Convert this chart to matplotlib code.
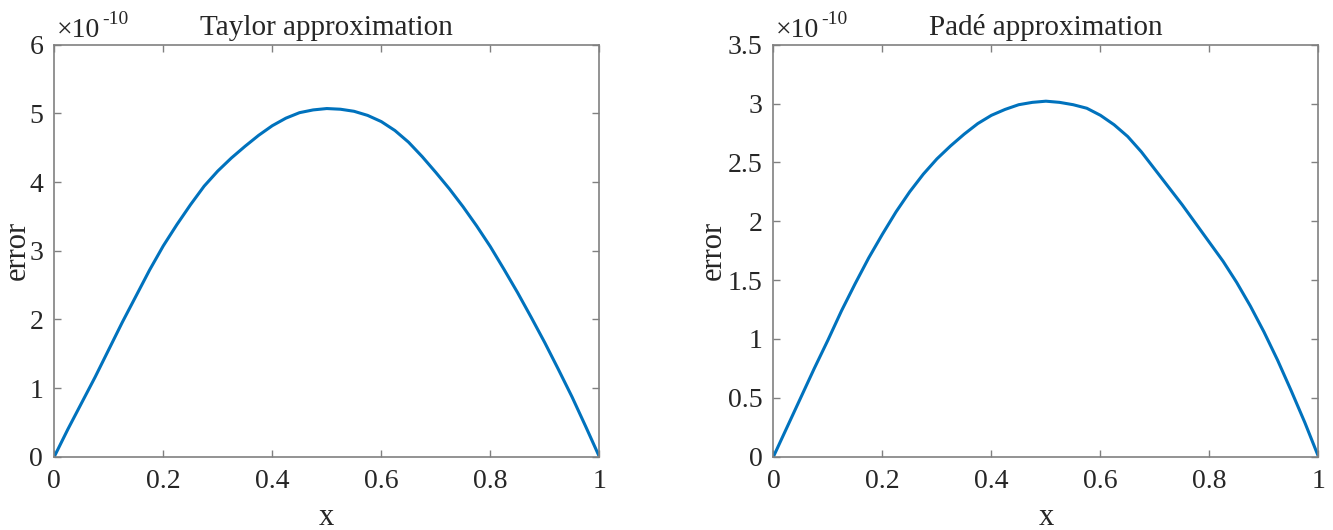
import numpy as np
import matplotlib
matplotlib.use("Agg")
import matplotlib.pyplot as plt
from matplotlib.ticker import FormatStrFormatter

# data (error in units of 1e-10)
x = [0, 0.025, 0.05, 0.075, 0.1, 0.125, 0.15, 0.175, 0.2, 0.225, 0.25,
     0.275, 0.3, 0.325, 0.35, 0.375, 0.4, 0.425, 0.45, 0.475, 0.5,
     0.525, 0.55, 0.575, 0.6, 0.625, 0.65, 0.675, 0.7, 0.725, 0.75,
     0.775, 0.8, 0.825, 0.85, 0.875, 0.9, 0.925, 0.95, 0.975, 1.0]
taylor_err = [0, 0.40, 0.78, 1.16, 1.56, 1.96, 2.34, 2.72, 3.07, 3.38, 3.67,
              3.94, 4.16, 4.35, 4.52, 4.68, 4.82, 4.93, 5.01, 5.05, 5.07,
              5.06, 5.03, 4.97, 4.88, 4.75, 4.58, 4.37, 4.14, 3.90, 3.64,
              3.36, 3.06, 2.73, 2.39, 2.03, 1.66, 1.27, 0.87, 0.44, 0]
pade_err = [0, 0.25, 0.50, 0.75, 0.99, 1.24, 1.47, 1.69, 1.89, 2.08, 2.25,
            2.40, 2.53, 2.64, 2.74, 2.83, 2.90, 2.95, 2.99, 3.01, 3.02,
            3.01, 2.99, 2.96, 2.90, 2.82, 2.72, 2.59, 2.44, 2.29, 2.14,
            1.98, 1.82, 1.66, 1.48, 1.28, 1.06, 0.82, 0.56, 0.29, 0]

panels = [
    ("Taylor approximation", taylor_err, [0, 1, 2, 3, 4, 5, 6], -0.068),
    ("Padé approximation", pade_err, [0, 0.5, 1, 1.5, 2, 2.5, 3, 3.5], -0.11),
]
x_ticks = [0, 0.2, 0.4, 0.6, 0.8, 1]

plt.rcParams['font.family'] = ['Liberation Serif', 'DejaVu Serif']

fig = plt.figure(figsize=(13.33, 5.3), dpi=100, facecolor="white")
lefts = [0.0407, 0.5802]
axis_col = "#808080"
text_col = "#262626"

for (title, err, y_ticks, ylab_x), left in zip(panels, lefts):
    ax = fig.add_axes([left, 0.1383, 0.4089, 0.7774])
    ax.plot(x, err, color="#0072BD", linewidth=2.2)
    ax.set_xlim(0, 1)
    ax.set_ylim(y_ticks[0], y_ticks[-1])
    ax.set_xticks(x_ticks)
    ax.set_yticks(y_ticks)
    ax.xaxis.set_major_formatter(FormatStrFormatter("%g"))
    ax.yaxis.set_major_formatter(FormatStrFormatter("%g"))
    ax.tick_params(direction="in", length=5, width=1, colors=axis_col,
                   labelcolor=text_col, labelsize=20, top=True, right=True)
    ax.tick_params(axis="x", pad=9)
    ax.tick_params(axis="y", pad=8)
    for s in ax.spines.values():
        s.set_color(axis_col)
        s.set_linewidth(1.2)
    ax.text(0.5, 1.0235, title, transform=ax.transAxes, fontsize=21,
            color=text_col, ha="center", va="baseline")
    ax.set_xlabel("x", fontsize=22, color=text_col, va="baseline")
    ax.xaxis.set_label_coords(0.5, -0.165)
    ax.set_ylabel("error", fontsize=22, color=text_col, va="center")
    ax.yaxis.set_label_coords(ylab_x, 0.5)
    # MATLAB style exponent above the y axis
    ax.text(0.004, 1.019, "\u00d710", transform=ax.transAxes,
            fontsize=20, color=text_col, ha="left", va="baseline")
    ax.text(0.088, 1.05, "-10", transform=ax.transAxes,
            fontsize=14, color=text_col, ha="left", va="baseline")

fig.savefig("out.png", dpi=100)
